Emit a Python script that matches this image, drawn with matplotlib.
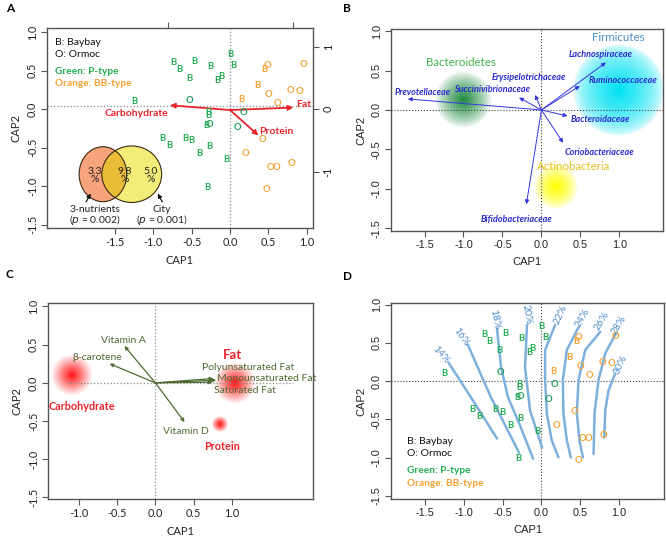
import matplotlib
matplotlib.use('Agg')
import matplotlib.pyplot as plt
from matplotlib.patches import Ellipse
import numpy as np

plt.rcParams['font.family'] = ['Lato', 'DejaVu Sans']
plt.rcParams['axes.unicode_minus'] = False

# ---------------- data ----------------
# samples (panels A and D): CAP1, CAP2, city letter, enterotype
site_x = [-1.248, -0.74, -0.665, -0.47, -0.257, -0.535, -0.113, -0.161, 0.0, 0.048,
          -0.287, -0.287, -0.313, -0.883, -0.796, -0.587, -0.509, -0.27, -0.404, -0.052, -0.3,
          -0.526, -0.274, 0.17, 0.096,
          0.448, 0.361, 0.152,
          0.483, 0.952, 0.504, 0.787, 0.909, 0.617, 0.422, 0.196, 0.53, 0.609, 0.804, 0.478]
site_y = [0.104, 0.61, 0.52, 0.62, 0.556, 0.396, 0.43, 0.378, 0.717, 0.565,
          -0.04, -0.083, -0.213, -0.374, -0.465, -0.374, -0.404, -0.483, -0.578, -0.657, -1.013,
          0.117, -0.2, -0.039, -0.243,
          0.517, 0.309, 0.126,
          0.574, 0.583, 0.191, 0.248, 0.235, 0.074, -0.396, -0.574, -0.752, -0.752, -0.704, -1.043]
site_city = ['B'] * 21 + ['O'] * 4 + ['B'] * 3 + ['O'] * 12
site_type = ['P'] * 25 + ['BB'] * 15

# panel A: nutrient vectors
nutr_names = ['Carbohydrate', 'Fat', 'Protein']
nutr_x = [-0.783, 0.826, 0.37]
nutr_y = [0.052, 0.022, -0.339]

# panel A: variance partition (%)
venn_vals = ['3.3', '9.8', '5.0']
venn_tests = ['3-nutrients', 'City']
venn_p = ['0.002', '0.001']

# panel B: family vectors
fam_names = ['Prevotellaceae', 'Succinivibrionaceae', 'Erysipelotrichaceae', 'Lachnospiraceae',
             'Ruminococcaceae', 'Bacteroidaceae', 'Coriobacteriaceae', 'Bifidobacteriaceae']
fam_x = [-1.714, -0.287, -0.081, 0.827, 0.493, 0.334, 0.278, -0.193]
fam_y = [0.14, 0.157, 0.191, 0.602, 0.305, -0.076, -0.416, -1.196]
fam_lab = [(-1.521, 0.225), (-0.63, 0.263), (-0.159, 0.416), (0.758, 0.70),
           (1.041, 0.369), (0.75, -0.119), (0.75, -0.534), (-0.321, -1.387)]

# panel B: phylum centroids
phyla = ['Bacteroidetes', 'Firmicutes', 'Actinobacteria']
phyla_x = [-1.007, 0.985, 0.184]
phyla_y = [0.127, 0.254, -0.975]

# panel C: dietary vectors
diet_names = ['Vitamin A', '\u03b2-carotene', 'Vitamin D', 'Polyunsaturated Fat',
              'Monounsaturated Fat', 'Saturated Fat']
diet_x = [-0.403, -0.597, 0.381, 0.758, 0.792, 0.745]
diet_y = [0.482, 0.25, -0.513, 0.057, 0.035, 0.009]
diet_lab = [(-0.42, 0.557), (-0.758, 0.333), (0.398, -0.632), (1.212, 0.197),
            (1.45, 0.053), (1.169, -0.096)]

# panel C: macronutrient centroids
macro = ['Carbohydrate', 'Fat', 'Protein']
macro_x = [-1.091, 1.039, 0.844]
macro_y = [0.101, -0.009, -0.544]

# panel D: fat-energy (%) contour lines
cont_levels = ['14%', '16%', '18%', '20%', '22%', '24%', '26%', '28%', '30%']
cont_x = [[-1.193, -0.908, -0.572],
          [-0.947, -0.65, -0.288],
          [-0.572, -0.52, -0.43, -0.275, -0.107],
          [-0.185, -0.211, -0.146, 0.009],
          [0.177, 0.048, 0.048, 0.07, 0.134, 0.22],
          [0.474, 0.328, 0.276, 0.284, 0.328, 0.38],
          [0.758, 0.565, 0.478, 0.457, 0.491, 0.535],
          [0.965, 0.823, 0.736, 0.685, 0.672],
          [0.952, 0.866, 0.823, 0.81]]
cont_y = [[0.237, -0.211, -0.75],
          [0.474, -0.211, -0.934],
          [0.684, 0.184, -0.211, -0.579, -1.013],
          [0.737, 0.184, -0.382, -0.868],
          [0.737, 0.408, 0.013, -0.421, -0.776, -0.996],
          [0.697, 0.408, 0.013, -0.421, -0.776, -0.996],
          [0.645, 0.408, 0.013, -0.421, -0.776, -0.996],
          [0.632, 0.364, 0.013, -0.421, -0.951],
          [0.101, -0.118, -0.382, -0.733]]
cont_lab = [(-1.296, 0.342, -48), (-1.037, 0.583, -55), (-0.607, 0.803, -78),
            (-0.189, 0.868, -80), (0.242, 0.868, 65), (0.522, 0.824, 60),
            (0.781, 0.78, 58), (0.995, 0.737, 58), (1.017, 0.211, 65)]

# ---------------- style ----------------
GREEN = '#25AD52'
GREEN_O = '#1C9C5C'
ORANGE = '#F5A032'
RED = '#E8242B'
BLUE = '#3535DD'
OLIVE = '#4E6B34'
SPINE = '#555555'
W, H = 666, 541


def box(l, r, t, b):
    return [l / W, 1 - b / H, (r - l) / W, (b - t) / H]


def frame(ax, xlim, ylim, xt, yt, fam=None):
    ax.set_xlim(xlim)
    ax.set_ylim(ylim)
    ax.set_xticks(xt)
    ax.set_yticks(yt)
    ax.set_xticklabels(['%.1f' % v for v in xt])
    ax.set_yticklabels(['%.1f' % v for v in yt], rotation=90, va='center')
    for s in ax.spines.values():
        s.set_color(SPINE)
        s.set_linewidth(1.0)
    ax.tick_params(labelsize=7.8, length=4, color=SPINE, labelcolor='#222222', pad=2.5)
    ax.set_xlabel('CAP1', fontsize=8, color='#222222', labelpad=5)
    ax.set_ylabel('CAP2', fontsize=8, color='#222222', labelpad=4)
    if fam:
        for t in ax.get_xticklabels() + ax.get_yticklabels():
            t.set_family(fam)
        ax.xaxis.label.set_family(fam)
        ax.yaxis.label.set_family(fam)


def glow(ax, cx, cy, r, rgb, power=1.0):
    n = 201
    xs = np.linspace(cx - r, cx + r, n)
    ys = np.linspace(cy - r, cy + r, n)
    X, Y = np.meshgrid(xs, ys)
    d = np.sqrt((X - cx) ** 2 + (Y - cy) ** 2) / r
    img = np.zeros((n, n, 4))
    img[..., :3] = matplotlib.colors.to_rgb(rgb)
    img[..., 3] = np.clip(1 - d, 0, 1) ** power
    ax.imshow(img, extent=(cx - r, cx + r, cy - r, cy + r), origin='lower',
              aspect='auto', zorder=1, interpolation='bilinear')


def arrow(ax, x, y, c, lw, ms, x0=0.0, y0=0.0):
    ax.annotate('', xy=(x, y), xytext=(x0, y0), zorder=4,
                arrowprops=dict(arrowstyle='-|>', color=c, lw=lw, mutation_scale=ms,
                                shrinkA=0, shrinkB=0))


def sites(ax):
    for x, y, c, t in zip(site_x, site_y, site_city, site_type):
        if t == 'P':
            col = GREEN if c == 'B' else GREEN_O
        else:
            col = ORANGE
        ax.text(x, y, c, color=col, fontsize=6.8, ha='center', va='center', zorder=5,
                weight='bold')


def site_legend(ax, x, ys):
    ax.text(x, ys[0], 'B: Baybay', fontsize=7.5, color='#111111', va='center')
    ax.text(x, ys[1], 'O: Ormoc', fontsize=7.5, color='#111111', va='center')
    ax.text(x, ys[2], 'Green: P-type', fontsize=7.3, color=GREEN, va='center', weight='bold')
    ax.text(x, ys[3], 'Orange: BB-type', fontsize=7.3, color=ORANGE, va='center', weight='bold')


fig = plt.figure(figsize=(W / 100, H / 100), dpi=100)

# ---------------- A ----------------
ax = fig.add_axes(box(47, 313, 28, 228))
frame(ax, (-2.387, 1.082), (-1.543, 1.056), [-1.5, -1.0, -0.5, 0.0, 0.5, 1.0],
      [-1.5, -1.0, -0.5, 0.0, 0.5, 1.0])
ax.axhline(0.04, ls=':', color='#888888', lw=0.9, zorder=1)
ax.axvline(0, ls=':', color='#888888', lw=0.9, zorder=1)
sites(ax)
for n, x, y in zip(nutr_names, nutr_x, nutr_y):
    arrow(ax, x, y, RED, 1.3, 7, 0, -0.01)
ax.text(-1.217, -0.057, 'Carbohydrate', color=RED, fontsize=7.5, weight='bold', ha='center', va='center', zorder=5)
ax.text(0.861, 0.061, 'Fat', color=RED, fontsize=7.5, weight='bold', ha='left', va='center', zorder=5)
ax.text(0.609, -0.283, 'Protein', color=RED, fontsize=7.5, weight='bold', ha='center', va='center', zorder=5)
site_legend(ax, -2.28, [0.866, 0.711, 0.494, 0.334])

# venn
e1 = Ellipse((-1.658, -0.844), 0.62, 0.714, facecolor='#F7A47C', edgecolor='none', zorder=3)
e2 = Ellipse((-1.282, -0.844), 0.78, 0.735, facecolor='#F3EC78', edgecolor='none', zorder=3)
ax.add_patch(e1)
ax.add_patch(e2)
e3 = Ellipse((-1.658, -0.844), 0.62, 0.714, facecolor='#E9BD36', edgecolor='none', zorder=3.5)
ax.add_patch(e3)
e3.set_clip_path(e2)
for c, w, h in [((-1.658, -0.844), 0.62, 0.714), ((-1.282, -0.844), 0.78, 0.735)]:
    ax.add_patch(Ellipse(c, w, h, facecolor='none', edgecolor='#3A2A12', lw=0.8, zorder=4))
for v, x in zip(venn_vals, [-1.77, -1.378, -1.03]):
    ax.text(x, -0.857, v + '\n%', fontsize=7.5, ha='center', va='center',
            linespacing=0.85, color='#222222', zorder=5)
for t, p, x in zip(venn_tests, venn_p, [-1.76, -0.89]):
    ax.text(x, -1.39, t + '\n($p$ = ' + p + ')', fontsize=7.5, ha='center', va='center',
            linespacing=0.95, color='#222222', zorder=5)
arrow(ax, -1.816, -1.095, '#111111', 0.9, 6, -1.877, -1.204)
arrow(ax, -0.943, -1.095, '#111111', 0.9, 6, -0.883, -1.204)

sec_y = ax.secondary_yaxis('right', functions=(lambda v: v / 0.815, lambda v: v * 0.815))
sec_y.set_yticks([-1, 0, 1])
sec_y.set_yticklabels(['-1', '0', '1'], rotation=90, va='center')
sec_y.tick_params(labelsize=7.8, length=4, color=SPINE, labelcolor='#222222', pad=3)
sec_y.spines['right'].set_visible(False)
sec_x = ax.secondary_xaxis('top', functions=(lambda v: v / 0.815, lambda v: v * 0.815))
sec_x.set_xticks([-1, 1])
sec_x.set_xticklabels(['', ''])
sec_x.tick_params(length=4, color=SPINE)
sec_x.spines['top'].set_visible(False)

# ---------------- B ----------------
ax = fig.add_axes(box(391, 663, 29, 231))
frame(ax, (-1.93, 1.56), (-1.535, 1.027), [-1.5, -1.0, -0.5, 0.0, 0.5, 1.0],
      [-1.5, -1.0, -0.5, 0.0, 0.5, 1.0], fam='Liberation Sans')
ax.axhline(0, ls=':', color='#444444', lw=0.8, zorder=2)
ax.axvline(0, ls=':', color='#444444', lw=0.8, zorder=2)
glow(ax, phyla_x[0], phyla_y[0], 0.36, '#1E8A3E', 0.8)
glow(ax, phyla_x[1], phyla_y[1], 0.58, '#00E2F2', 0.55)
glow(ax, phyla_x[2], phyla_y[2], 0.28, '#FFFF00', 0.7)
ax.text(-1.028, 0.602, phyla[0], color='#3DB54A', fontsize=8.3, ha='center', va='center', zorder=5)
ax.text(0.985, 0.92, phyla[1], color='#4A8EC8', fontsize=8.3, ha='center', va='center', zorder=5)
ax.text(0.407, -0.721, phyla[2], color='#E6BE1E', fontsize=8.3, ha='center', va='center', zorder=5)
for n, x, y, (lx, ly) in zip(fam_names, fam_x, fam_y, fam_lab):
    arrow(ax, x, y, BLUE, 0.7, 6)
    ax.text(lx, ly, n, color='#2A2AD0', fontsize=6.5, style='italic', weight='bold',
            ha='center', va='center', zorder=5)
ax.set_xlim(-1.93, 1.56)
ax.set_ylim(-1.535, 1.027)

# ---------------- C ----------------
ax = fig.add_axes(box(48, 313, 303, 499))
frame(ax, (-1.40, 2.056), (-1.52, 1.045), [-1.0, -0.5, 0.0, 0.5, 1.0],
      [-1.5, -1.0, -0.5, 0.0, 0.5, 1.0])
ax.axvline(0, ls=':', color='#888888', lw=0.9, zorder=1)
ax.hlines(0, -1.15, 1.8, linestyles=':', color='#888888', lw=0.9, zorder=2)
glow(ax, macro_x[0], macro_y[0], 0.27, '#FF1010', 1.0)
glow(ax, macro_x[1], macro_y[1], 0.27, '#FF1010', 1.0)
glow(ax, macro_x[2], macro_y[2], 0.1, '#FF1010', 0.8)
for n, x, y, (lx, ly) in zip(diet_names, diet_x, diet_y, diet_lab):
    arrow(ax, x, y, OLIVE, 0.9, 5)
    ax.text(lx, ly, n, color=OLIVE, fontsize=7.5, ha='center', va='center', zorder=5)
ax.text(-0.952, -0.307, macro[0], color=RED, fontsize=7.8, weight='bold', ha='center', va='center', zorder=5)
ax.text(1.004, 0.364, macro[1], color=RED, fontsize=9.5, weight='bold', ha='center', va='center', zorder=5)
ax.text(0.866, -0.829, macro[2], color=RED, fontsize=7.8, weight='bold', ha='center', va='center', zorder=5)
ax.set_xlim(-1.40, 2.056)
ax.set_ylim(-1.52, 1.045)

# ---------------- D ----------------
ax = fig.add_axes(box(391, 664, 303, 499))
frame(ax, (-1.938, 1.58), (-1.54, 1.022), [-1.5, -1.0, -0.5, 0.0, 0.5, 1.0],
      [-1.5, -1.0, -0.5, 0.0, 0.5, 1.0], fam='Liberation Sans')
ax.axhline(0, ls=':', color='#444444', lw=0.8, zorder=1)
ax.axvline(0, ls=':', color='#444444', lw=0.8, zorder=1)
for lev, xs, ys, (lx, ly, rot) in zip(cont_levels, cont_x, cont_y, cont_lab):
    ax.plot(xs, ys, color='#7DB1DC', lw=1.8, solid_capstyle='round', solid_joinstyle='round', zorder=2)
    ax.text(lx, ly, lev, color='#4C8CC8', fontsize=7.5, rotation=rot, ha='center', va='center', zorder=5)
sites(ax)
site_legend(ax, -1.735, [-0.789, -0.951, -1.171, -1.333])

for lab, x, y in [('A', 6, 8), ('B', 343, 8), ('C', 6, 275), ('D', 343, 276)]:
    fig.text(x / W, 1 - y / H, lab, fontsize=8.5, weight='bold', va='center', ha='left')

fig.savefig('out.png', dpi=100)
